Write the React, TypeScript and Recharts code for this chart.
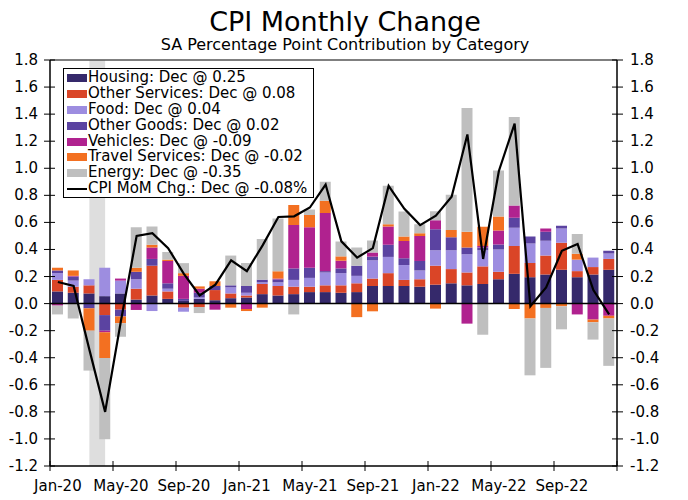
import React from 'react';
import { ComposedChart, Bar, Line, XAxis, YAxis, ReferenceLine, ReferenceArea, Legend } from 'recharts';

const months = ['Jan-20','Feb-20','Mar-20','Apr-20','May-20','Jun-20','Jul-20','Aug-20','Sep-20','Oct-20','Nov-20','Dec-20',
  'Jan-21','Feb-21','Mar-21','Apr-21','May-21','Jun-21','Jul-21','Aug-21','Sep-21','Oct-21','Nov-21','Dec-21',
  'Jan-22','Feb-22','Mar-22','Apr-22','May-22','Jun-22','Jul-22','Aug-22','Sep-22','Oct-22','Nov-22','Dec-22'];

const housing = [0.09,0.08,0.075,0.055,0.075,0.03,0.06,0.035,0.02,0.035,0.025,0.04,
  0.045,0.07,0.06,0.07,0.085,0.085,0.08,0.085,0.13,0.13,0.13,0.125,
  0.14,0.15,0.135,0.145,0.18,0.22,0.195,0.215,0.25,0.195,0.215,0.25];
const otherServices = [0.085,0.045,0.06,-0.085,-0.045,0.08,0.22,0.055,-0.03,-0.025,0.075,0.035,
  0.015,0.075,0.07,0.055,0.04,0.05,0.055,0.065,0.055,0.095,0.045,0.055,
  0.14,0.105,0.095,0.13,0.055,0.205,0.105,0.14,0.2,0.045,0.055,0.08];
const food = [0.05,0.045,0.045,0.21,0.095,0.07,-0.055,0.02,-0.03,0.01,0,0.045,
  0.02,0.012,0.027,0.05,0.065,0.095,0.09,0.055,0.135,0.12,0.11,0.065,
  0.115,0.14,0.135,0.12,0.165,0.135,0.145,0.11,0.105,0.085,0.07,0.04];
const otherGoods = [0.02,0.03,-0.035,-0.115,-0.05,0.055,0.05,0.04,0.015,0.035,0.03,0.015,
  0.05,0.02,0.022,0.085,0.075,0.01,0.035,0.075,0.027,0.09,0.05,0.07,
  0.155,0.095,0.05,0.02,0.037,0.075,0.05,0.065,0.02,0,0,0.02];
const vehicles = [-0.015,0.005,0,-0.012,0.015,-0.047,0.085,0.165,0.17,0.03,-0.045,0,
  -0.04,0,0.006,0.32,0.3,0.43,0.057,0,0.03,0.135,0.128,0.185,
  0.066,0,-0.148,0.01,0.103,0.09,0,0.025,0,-0.08,-0.118,-0.09];
const travel = [0.02,0.04,-0.165,-0.19,-0.05,0.03,0.02,0.01,0.02,0.017,0.035,-0.03,
  -0.015,-0.03,0.054,0.148,0.09,0.09,0.032,-0.1,-0.057,0.017,0.032,0.02,
  -0.037,0.054,0.116,0.143,0.103,-0.04,-0.11,-0.032,-0.02,0.044,-0.02,-0.02];
const energy = [-0.065,-0.11,-0.295,-0.6,-0.1,0.3,0.135,0.057,0.074,-0.045,0,0.22,
  0.17,0.3,0.39,-0.08,0.04,0.14,0.11,0.135,0.09,0.283,0.185,0.066,
  0.066,0.26,0.914,-0.23,0.34,0.653,-0.42,-0.443,-0.17,0.145,-0.128,-0.35];
const cpi = [0.16,0.13,-0.34,-0.8,-0.13,0.5,0.52,0.41,0.22,0.06,0.14,0.32,
  0.24,0.43,0.64,0.645,0.71,0.88,0.46,0.34,0.41,0.87,0.7,0.58,
  0.65,0.79,1.25,0.33,0.98,1.33,-0.02,0.12,0.39,0.44,0.1,-0.08];

const yTicks = [-1.2,-1.0,-0.8,-0.6,-0.4,-0.2,0,0.2,0.4,0.6,0.8,1.0,1.2,1.4,1.6,1.8];
const recessionStart = 'Mar-20';
const recessionEnd = 'Apr-20';

const seriesDefs = [
  { key: 'housing', name: 'Housing', values: housing, color: '#35296b' },
  { key: 'otherServices', name: 'Other Services', values: otherServices, color: '#da4527' },
  { key: 'food', name: 'Food', values: food, color: '#9d8de0' },
  { key: 'otherGoods', name: 'Other Goods', values: otherGoods, color: '#5b43a1' },
  { key: 'vehicles', name: 'Vehicles', values: vehicles, color: '#b0228f' },
  { key: 'travel', name: 'Travel Services', values: travel, color: '#f37021' },
  { key: 'energy', name: 'Energy', values: energy, color: '#bfbfbf' },
];

const data = months.map((m, i) => {
  const row: any = { month: m, cpi: cpi[i] };
  seriesDefs.forEach(s => { row[s.key] = s.values[i]; });
  return row;
});

const W = 688, H = 500;
const LEFT_W = 50, RIGHT_W = 71, X_H = 34, TOP = 60;
const plotW = W - LEFT_W - RIGHT_W;
const bw = plotW / months.length;
const FONT = '"DejaVu Sans", Verdana, sans-serif';

const fmt = (v: number) => (v === 0 ? '0.0' : v.toFixed(1));

const XTick = (props: any) => {
  const { x, y, payload } = props;
  const x0 = x - bw / 2;
  const isLast = payload.index + 4 >= months.length;
  return (
    <g>
      <line x1={x0} x2={x0} y1={y - 5} y2={y + 5} stroke="#000" strokeWidth={1} />
      {isLast && <line x1={x0 + 4 * bw} x2={x0 + 4 * bw} y1={y - 5} y2={y + 5} stroke="#000" strokeWidth={1} />}
      <text x={x} y={y + 25} textAnchor="middle" fontFamily={FONT} fontSize={15} fill="#000">{payload.value}</text>
    </g>
  );
};

const LeftTick = (props: any) => {
  const { x, y, payload } = props;
  return (
    <g>
      <line x1={x - 6} x2={x + 5} y1={y} y2={y} stroke="#000" strokeWidth={1} />
      <text x={x - 12} y={y + 5} textAnchor="end" fontFamily={FONT} fontSize={15} fill="#000">{fmt(payload.value)}</text>
    </g>
  );
};

const RightTick = (props: any) => {
  const { x, y, payload } = props;
  return (
    <g>
      <line x1={x - 5} x2={x + 6} y1={y} y2={y} stroke="#000" strokeWidth={1} />
      <text x={x + 13} y={y + 5} textAnchor="start" fontFamily={FONT} fontSize={15} fill="#000">{fmt(payload.value)}</text>
    </g>
  );
};

const RecessionShape = (props: any) => {
  const { x, y, width, height } = props;
  const band = width / 2;
  return <rect x={x + band / 2} y={y} width={width - band} height={height} fill="#dedede" />;
};

const LegendBox = () => {
  const last = months.length - 1;
  return (
    <div style={{ border: '1px solid #000', background: '#fff', padding: '1px 6px 0 3px', fontFamily: FONT, fontSize: 15, lineHeight: '15.9px', color: '#000', whiteSpace: 'nowrap' }}>
      {seriesDefs.map(s => (
        <div key={s.key} style={{ display: 'flex', alignItems: 'center', height: 15.9 }}>
          <span style={{ display: 'inline-block', width: 20, height: 8, background: s.color, marginRight: 1 }} />
          <span>{`${s.name}: Dec @ ${s.values[last].toFixed(2)}`}</span>
        </div>
      ))}
      <div style={{ display: 'flex', alignItems: 'center', height: 15.9 }}>
        <span style={{ display: 'inline-block', width: 20, height: 2, background: '#000', marginRight: 1 }} />
        <span>{`CPI MoM Chg.: Dec @ ${cpi[last].toFixed(2)}%`}</span>
      </div>
    </div>
  );
};

export default function App() {
  return (
    <div style={{ position: 'absolute', left: 0, top: 0, width: W, height: H, background: '#fff' }}>
      <ComposedChart
        width={W}
        height={H}
        data={data}
        stackOffset="sign"
        margin={{ top: TOP, right: 0, bottom: 0, left: 0 }}
        barSize={11}
      >
        <ReferenceArea yAxisId="left" x1={recessionStart} x2={recessionEnd} shape={RecessionShape} fill="#dedede" fillOpacity={1} />
        <XAxis dataKey="month" height={X_H} interval={3} tickSize={0} tickMargin={0} tickLine={false}
          tick={XTick} axisLine={{ stroke: '#000', strokeWidth: 1.5 }} />
        <YAxis yAxisId="left" width={LEFT_W} domain={[-1.2, 1.8]} ticks={yTicks} allowDataOverflow
          tickSize={0} tickMargin={0} tickLine={false} tick={LeftTick} axisLine={{ stroke: '#000', strokeWidth: 1.5 }} interval={0} />
        <YAxis yAxisId="right" orientation="right" width={RIGHT_W} domain={[-1.2, 1.8]} ticks={yTicks} allowDataOverflow
          tickSize={0} tickMargin={0} tickLine={false} tick={RightTick} axisLine={{ stroke: '#000', strokeWidth: 1.5 }} interval={0} />
        {seriesDefs.map(s => (
          <Bar key={s.key} yAxisId="left" dataKey={s.key} name={s.name} stackId="a" fill={s.color} isAnimationActive={false} />
        ))}
        <ReferenceLine yAxisId="left" y={0} stroke="#000" strokeWidth={1.5} />
        <ReferenceLine yAxisId="left" y={1.8} stroke="#555" strokeWidth={1.5} />
        <Line yAxisId="left" dataKey="cpi" type="linear" stroke="#000" strokeWidth={2.2} dot={false} isAnimationActive={false} />
        <Legend layout="vertical" align="center" verticalAlign="middle" content={LegendBox}
          wrapperStyle={{ left: 63, top: 68, width: 'auto', height: 'auto' }} />
      </ComposedChart>
      <svg width={W} height={60} style={{ position: 'absolute', left: 0, top: 0, pointerEvents: 'none' }}>
        <text x={345} y={31} textAnchor="middle" fontFamily={FONT} fontSize={27} fill="#000">CPI Monthly Change</text>
        <text x={345} y={50} textAnchor="middle" fontFamily={FONT} fontSize={16} fill="#000">SA Percentage Point Contribution by Category</text>
      </svg>
    </div>
  );
}
